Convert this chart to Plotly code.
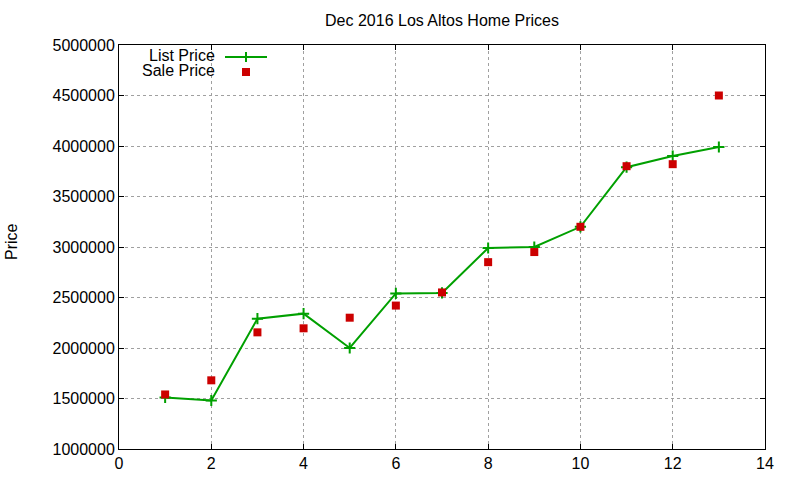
import plotly.graph_objects as go

# Data
home_index = list(range(1, 14))
list_price = [1510000, 1480000, 2290000, 2340000, 2000000, 2540000, 2545000,
              2990000, 3000000, 3200000, 3790000, 3900000, 3990000]
sale_price = [1540000, 1680000, 2155000, 2195000, 2300000, 2420000, 2550000,
              2850000, 2950000, 3200000, 3800000, 3820000, 4500000]
x_ticks = [0, 2, 4, 6, 8, 10, 12, 14]
y_ticks = [1000000, 1500000, 2000000, 2500000, 3000000, 3500000, 4000000, 4500000, 5000000]

GREEN = "#00a000"
RED = "#cc0000"
FONT = "Liberation Sans, Arial, sans-serif"
FS = 16

L, R, T, B = 119, 35, 45, 31
W, H = 800, 480
PW, PH = W - L - R, H - T - B


def px(xs):
    """screen x -> paper"""
    return (xs - L) / PW


def py(ys):
    """screen y -> paper"""
    return (H - B - ys) / PH


fig = go.Figure()
fig.add_trace(go.Scatter(
    x=home_index, y=list_price, mode="lines+markers", name="List Price",
    line=dict(color=GREEN, width=2),
    marker=dict(symbol="cross-thin", size=8, line=dict(color=GREEN, width=2)),
    showlegend=False,
))
fig.add_trace(go.Scatter(
    x=home_index, y=sale_price, mode="markers", name="Sale Price",
    marker=dict(symbol="square", size=8, color=RED),
    showlegend=False,
))

axis_common = dict(
    showline=True, linecolor="black", linewidth=1, mirror="ticks",
    ticks="inside", ticklen=5, tickcolor="black", tickwidth=1,
    showgrid=True, gridcolor="#a0a0a0", gridwidth=1, griddash="3px,3px",
    zeroline=False, tickfont=dict(family=FONT, size=FS, color="black"),
    automargin=False,
)

fig.update_xaxes(range=[0, 14], tickvals=x_ticks, **axis_common)
fig.update_yaxes(range=[1000000, 5000000], tickvals=y_ticks, tickformat="d", **axis_common)

annotations = [
    dict(text="Price", x=px(11.5), y=py(241.5), xref="paper", yref="paper",
         xanchor="center", yanchor="middle", showarrow=False, textangle=-90,
         font=dict(family=FONT, size=FS, color="black")),
    dict(text="List Price", x=px(217), y=py(55), xref="paper", yref="paper",
         xanchor="right", yanchor="middle", showarrow=False,
         font=dict(family=FONT, size=FS, color="black")),
    dict(text="Sale Price", x=px(217), y=py(71), xref="paper", yref="paper",
         xanchor="right", yanchor="middle", showarrow=False,
         font=dict(family=FONT, size=FS, color="black")),
]
shapes = [
    dict(type="line", xref="paper", yref="paper", x0=px(225), x1=px(267), y0=py(57), y1=py(57),
         line=dict(color=GREEN, width=2)),
    dict(type="line", xref="paper", yref="paper", x0=px(246), x1=px(246), y0=py(52), y1=py(62),
         line=dict(color=GREEN, width=2)),
    dict(type="rect", xref="paper", yref="paper", x0=px(242), x1=px(250), y0=py(68), y1=py(76),
         line=dict(width=0), fillcolor=RED),
]

fig.update_layout(
    width=W, height=H,
    margin=dict(l=L, r=R, t=T, b=B),
    paper_bgcolor="white", plot_bgcolor="white",
    title=dict(text="Dec 2016 Los Altos Home Prices", x=(L + PW / 2) / W, xanchor="center",
               y=1 - 20 / H, yanchor="middle",
               font=dict(family=FONT, size=FS, color="black")),
    font=dict(family=FONT, size=FS, color="black"),
    annotations=annotations, shapes=shapes,
    showlegend=False,
)

fig.write_html(
    "out.html",
    config={"displayModeBar": False},
    post_script="document.body.style.margin='0';document.body.style.overflow='hidden';",
)
